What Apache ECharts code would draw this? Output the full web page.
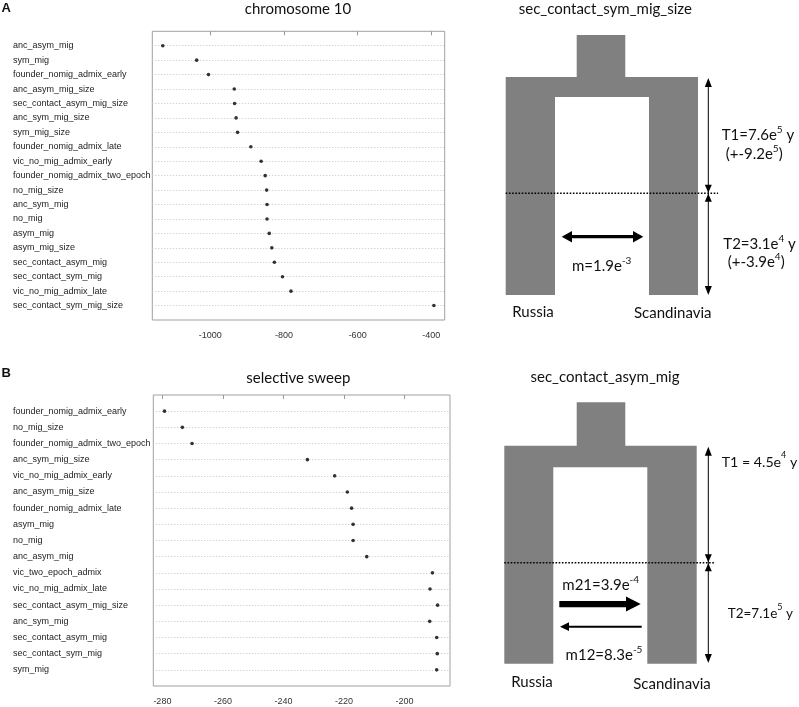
<!DOCTYPE html>
<html><head><meta charset="utf-8">
<script src="https://cdn.jsdelivr.net/npm/echarts@6/dist/echarts.min.js"></script>
<style>html,body{margin:0;padding:0;background:#fff}#c{width:799px;height:707px}</style>
</head><body><div id="c"></div>
<script>
// ---- Panel A data (chromosome 10) ----
const modelsA = ['anc_asym_mig','sym_mig','founder_nomig_admix_early','anc_asym_mig_size','sec_contact_asym_mig_size','anc_sym_mig_size','sym_mig_size','founder_nomig_admix_late','vic_no_mig_admix_early','founder_nomig_admix_two_epoch','no_mig_size','anc_sym_mig','no_mig','asym_mig','asym_mig_size','sec_contact_asym_mig','sec_contact_sym_mig','vic_no_mig_admix_late','sec_contact_sym_mig_size'];
const valuesA = [-1129,-1037,-1005,-935,-934,-930,-926,-890,-862,-851,-847,-846,-846,-840,-833,-826,-804,-781,-393];
const xTicksA = [-1000,-800,-600,-400];
// ---- Panel B data (selective sweep) ----
const modelsB = ['founder_nomig_admix_early','no_mig_size','founder_nomig_admix_two_epoch','anc_sym_mig_size','vic_no_mig_admix_early','anc_asym_mig_size','founder_nomig_admix_late','asym_mig','no_mig','anc_asym_mig','vic_two_epoch_admix','vic_no_mig_admix_late','sec_contact_asym_mig_size','anc_sym_mig','sec_contact_asym_mig','sec_contact_sym_mig','sym_mig'];
const valuesB = [-279.3,-273.4,-270.2,-232.1,-223.1,-218.9,-217.5,-217,-217,-212.5,-190.8,-191.6,-189.1,-191.7,-189.4,-189.2,-189.4];
const xTicksB = [-280,-260,-240,-220,-200];
// ---- Text ----
const panelTitles = ['chromosome 10','selective sweep'];
const diagramTitles = ['sec_contact_sym_mig_size','sec_contact_asym_mig'];
const popNames = ['Russia','Scandinavia'];

const LBL = "'Liberation Sans', Arial, sans-serif";
const CAL = "Lato, 'Open Sans', sans-serif";
const GRAY = '#808080';

function dotPanel(idx, models, values, ticks, grid, xmin, xmax) {
  const n = models.length;
  return {
    grid: Object.assign({show:true, borderColor:'#a0a0a0', borderWidth:1, backgroundColor:'transparent', containLabel:false}, grid),
    xAxis: {
      type:'value', gridIndex:idx, min:xmin, max:xmax, position:'bottom',
      axisLine:{show:false},
      axisTick:{show:true, length:4, customValues:ticks, lineStyle:{color:'#999'}},
      axisLabel:{customValues:ticks, formatter:v=>String(v), fontSize:9, fontFamily:LBL, color:'#333', margin:11},
      splitLine:{show:false}
    },
    yAxis: {
      type:'value', gridIndex:idx, min:0, max:n+1, inverse:true,
      axisLine:{show:false}, axisTick:{show:false}, splitLine:{show:false},
      axisLabel:{customValues:models.map((_, i)=>i+1), formatter:v=>models[v-1]||'',
        align:'left', margin:grid.left-13, fontSize:9, fontFamily:LBL, color:'#222'}
    },
    series: {
      type:'scatter', xAxisIndex:idx, yAxisIndex:idx, symbolSize:3.6,
      itemStyle:{color:'#000'}, silent:true, z:5,
      data: values.map((v,i)=>[v,i+1]),
      markLine:{silent:true, symbol:['none','none'], label:{show:false},
        lineStyle:{color:'#c4c4c4', type:[1,2], width:1},
        data: models.map((_, i)=>({yAxis:i+1}))}
    }
  };
}

const pA = dotPanel(0, modelsA, valuesA, xTicksA, {left:152.3, top:31.3, width:292.4, height:288.7}, -1157.5, -363.6);
const pB = dotPanel(1, modelsB, valuesB, xTicksB, {left:153.3, top:395, width:296.7, height:291}, -283, -185);

// ---- diagram helpers (layout only) ----
const G = [];
function rect(x,y,w,h,fill){G.push({type:'rect', shape:{x,y,width:w,height:h}, style:{fill}, silent:true});}
function poly(points){G.push({type:'polygon', shape:{points}, style:{fill:'#000'}, silent:true});}
function line(x1,y1,x2,y2,w,dash){G.push({type:'line', shape:{x1,y1,x2,y2}, style:{stroke:'#000', lineWidth:w, lineDash:dash||null}, silent:true});}
function txt(x,y,text,align,size,rich,font,weight){
  const st = {x,y,text,align:align||'left',verticalAlign:'middle',fill:'#111',
    fontSize:size||15,fontFamily:font||CAL,fontWeight:weight||'normal'};
  if(rich) st.rich = rich;
  G.push({type:'text', style:st, silent:true});
}
function mkRich(sz){
  return {a:{fontSize:sz,fontFamily:CAL,color:'#111',lineHeight:18,verticalAlign:'bottom'},
          s:{fontSize:Math.round(sz*0.66),fontFamily:CAL,color:'#111',lineHeight:18,verticalAlign:'top'}};
}
const R = mkRich(15), R14 = mkRich(14.2), R13 = mkRich(13.5);
function sup(base, ex, tail){ return '{a|'+base+'}{s|'+ex+'}'+(tail?'{a|'+tail+'}':''); }

function vArrow(x, yTop, yMid, yBot){
  line(x, yTop+6, x, yBot-6, 1);
  poly([[x,yTop],[x-3.5,yTop+9],[x+3.5,yTop+9]]);
  poly([[x,yMid-0.5],[x-3.5,yMid-8.5],[x+3.5,yMid-8.5]]);
  poly([[x,yMid+0.5],[x-3.5,yMid+8.5],[x+3.5,yMid+8.5]]);
  poly([[x,yBot],[x-3.5,yBot-9],[x+3.5,yBot-9]]);
}

// Diagram A
rect(576.7,35,48.6,43,GRAY);
rect(505.7,77,192.3,218,GRAY);
rect(555,97,94,199,'#fff');
line(505.7,193.3,718,193.3,1.6,[1.6,1.6]);
vArrow(708.3,78,193.3,295);
// double arrow
line(570,236.7,635,236.7,3.2);
poly([[561.7,236.7],[572,231],[572,242.4]]);
poly([[643.3,236.7],[633,231],[633,242.4]]);

// Diagram B
rect(576.7,402.3,48.6,44,GRAY);
rect(504.3,445.7,192.4,218,GRAY);
rect(553.3,467.3,94,197,'#fff');
line(504.3,562.7,715,562.7,1.6,[1.6,1.6]);
vArrow(708.3,446.7,562.7,663);
// thick right arrow
G.push({type:'rect', shape:{x:559.3,y:601,width:68,height:6.2}, style:{fill:'#000'}, silent:true});
poly([[640.7,604],[626,596.5],[626,611.5]]);
// thin left arrow
line(566,626.7,641.7,626.7,2);
poly([[560,626.7],[569,622.3],[569,631.1]]);

// texts
txt(1.5,8,'A','left',13,null,LBL,'bold');
txt(1.5,373,'B','left',13,null,LBL,'bold');
txt(298,9,panelTitles[0],'center',15);
txt(298.3,378,panelTitles[1],'center',15);
txt(605.3,9,diagramTitles[0],'center',15);
txt(605,377,diagramTitles[1],'center',15);
txt(533,312.5,popNames[0],'center',15);
txt(672.8,313,popNames[1],'center',15);
txt(532,682.5,popNames[0],'center',15);
txt(672,684,popNames[1],'center',15);
txt(721.7,134,sup('T1=7.6e','5',' y'),'left',15,R);
txt(725.7,152.5,sup('(+-9.2e','5',')'),'left',15,R);
txt(723.3,242.5,sup('T2=3.1e','4',' y'),'left',15,R);
txt(727.7,260.5,sup('(+-3.9e','4',')'),'left',15,R);
txt(601.7,265,sup('m=1.9e','-3'),'center',15,R);
txt(721.7,460,sup('T1 = 4.5e','4',' y'),'left',15,R14);
txt(727.7,612,sup('T2=7.1e','5',' y'),'left',15,R13);
txt(600.7,583.5,sup('m21=3.9e','-4'),'center',15,R);
txt(604,654,sup('m12=8.3e','-5'),'center',15,R);

const chart = echarts.init(document.getElementById('c'), null, {renderer:'canvas'});
chart.setOption({
  animation:false,
  backgroundColor:'#fff',
  grid:[pA.grid, pB.grid],
  xAxis:[pA.xAxis, pB.xAxis],
  yAxis:[pA.yAxis, pB.yAxis],
  series:[pA.series, pB.series],
  graphic:{elements:G}
});
</script></body></html>
